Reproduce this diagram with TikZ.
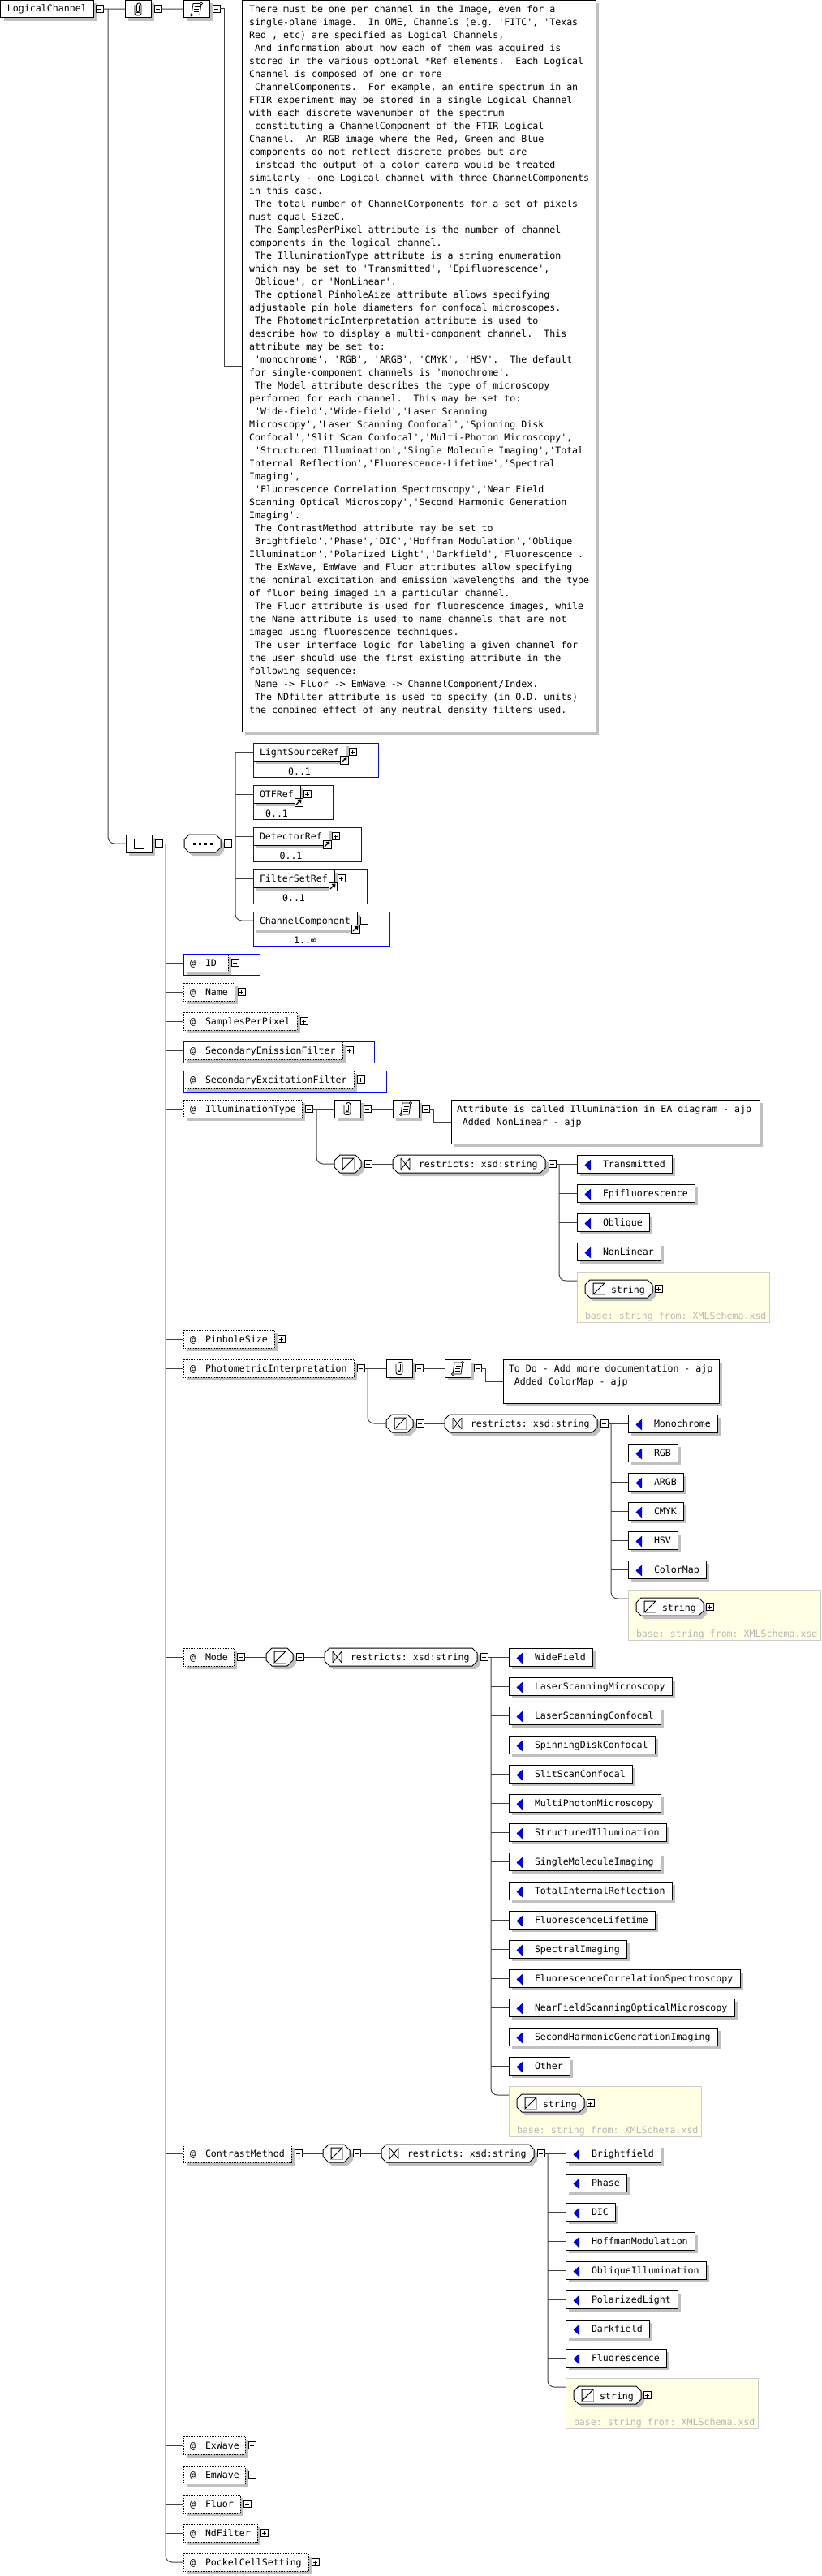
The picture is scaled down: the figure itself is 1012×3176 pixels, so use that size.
\documentclass[tikz,border=0pt]{standalone}
\usepackage{fontspec}
\setmonofont{DejaVu Sans Mono}
\usetikzlibrary{calc}
\definecolor{shadec}{RGB}{192,192,192}
\definecolor{connc}{RGB}{64,64,64}
\definecolor{yel}{RGB}{255,255,228}
\definecolor{yelb}{RGB}{205,205,205}
\definecolor{basec}{RGB}{185,185,185}
\definecolor{xblue}{RGB}{0,0,255}
\newcommand\mytf{\fontsize{11.6}{16}\selectfont\ttfamily\frenchspacing}
\tikzset{
  bxn/.style={draw=black,fill=white,line width=1pt,inner sep=0pt,outer sep=0pt},
  dotn/.style={bxn,densely dotted},
  conn/.style={draw=connc,line width=1pt},
  txt/.style={anchor=base west,inner sep=0pt,outer sep=0pt,font=\mytf},
  btnn/.style={draw=black,fill=white,line width=0.8pt,minimum size=9,inner sep=0pt,outer sep=0pt},
  bluef/.style={draw=xblue,line width=1pt},
}
% shadowed box: name x1 y1 x2 y2 style
\newcommand\mybox[6]{%
  \fill[shadec] ({#2+4},{#3+4}) rectangle ({#4+4},{#5+4});
  \node[#6,anchor=north west,minimum width={(#4)-(#2)},minimum height={(#5)-(#3)}] (#1) at ({#2},{#3}) {};
}
% button: name xleft ycenter plus?
\newcommand\mybtn[4]{%
  \node[btnn,anchor=west] (#1) at ({#2},{#3}) {};
  \draw[line width=0.8pt] ({#2+2},{#3}) -- ({#2+7},{#3});
  \ifnum#4=1\relax\draw[line width=0.8pt] ({#2+4.5},{#3-2.5}) -- ({#2+4.5},{#3+2.5});\fi
}
% octagon: name x1 y1 x2 y2 chamfer
\newcommand\myoct[6]{%
  \fill[shadec] ({#2+#6+4},{#3+4}) -- ({#4-#6+4},{#3+4}) -- ({#4+4},{#3+#6+4}) -- ({#4+4},{#5-#6+4}) -- ({#4-#6+4},{#5+4}) -- ({#2+#6+4},{#5+4}) -- ({#2+4},{#5-#6+4}) -- ({#2+4},{#3+#6+4}) -- cycle;
  \draw[line width=1pt,fill=white] ({#2+#6},{#3}) -- ({#4-#6},{#3}) -- ({#4},{#3+#6}) -- ({#4},{#5-#6}) -- ({#4-#6},{#5}) -- ({#2+#6},{#5}) -- ({#2},{#5-#6}) -- ({#2},{#3+#6}) -- cycle;
  \node[inner sep=0pt,outer sep=0pt,anchor=north west,minimum width={(#4)-(#2)},minimum height={(#5)-(#3)}] (#1) at ({#2},{#3}) {};
}
\newcommand\stico[2]{%
  \draw[draw=gray!70,line width=1pt] ({#1+14},{#2+1}) -- ({#1+14},{#2+14}) -- ({#1+1},{#2+14});
  \draw[line width=1pt,line join=miter] ({#1},{#2+14}) -- ({#1},{#2}) -- ({#1+14},{#2}) -- cycle;
}
\newcommand\rsico[2]{%
  \draw[line width=0.8pt] ({#1},{#2}) -- ({#1},{#2+14}) ({#1+11},{#2}) -- ({#1+11},{#2+14}) ({#1},{#2}) -- ({#1+11},{#2+14}) ({#1},{#2+14}) -- ({#1+11},{#2});
}
\newcommand\clipico[2]{%
  \draw[line width=0.9pt,rounded corners=2.5] ({#1+1.5},{#2+6}) -- ({#1+1.5},{#2+15}) -- ({#1-1.5},{#2+15}) -- ({#1-1.5},{#2+3.5}) -- ({#1+4},{#2+3.5}) -- ({#1+4},{#2+18.5}) -- ({#1-4},{#2+18.5}) -- ({#1-4},{#2+6});
}
\newcommand\scrollico[2]{%
  \draw[line width=0.8pt,fill=white] ({#1+4},{#2+3}) -- ({#1+14},{#2+3}) -- ({#1+12},{#2+17}) -- ({#1+2},{#2+17}) -- cycle;
  \draw[line width=0.8pt,fill=white] ({#1+14},{#2+3}) circle (1.6pt);
  \draw[line width=0.8pt,fill=white] ({#1+2},{#2+17}) circle (1.6pt);
  \draw[line width=0.7pt] ({#1+5.5},{#2+7}) -- ({#1+11.5},{#2+7}) ({#1+5},{#2+10}) -- ({#1+11},{#2+10}) ({#1+4.5},{#2+13}) -- ({#1+10.5},{#2+13});
}
% enumeration: name x top nchars text
\newcommand\myenum[5]{%
  \fill[shadec] ({#2+4},{#3+4}) rectangle ({#2+44+7*#4},{#3+26});
  \node[bxn,anchor=north west,minimum width={40+7*#4},minimum height=22] (#1) at ({#2},{#3}) {};
  \fill[xblue] ({#2+10},{#3+12.5}) -- ({#2+17},{#3+6}) -- ({#2+17},{#3+19}) -- cycle;
  \draw[line width=0.6pt,draw=xblue!40!black] ({#2+17},{#3+6}) -- ({#2+10},{#3+12.5}) -- ({#2+17},{#3+19});
  \node[txt] (#1-t) at ({#2+32},{#3+15}) {#5};
}
% element: name x top innerright text occurrence
\newcommand\myelem[6]{%
  \mybox{#1}{#2}{#3}{#4}{#3+22}{bxn}
  \node[txt] (#1-t) at ({#2+8},{#3+15}) {#5};
  \mybtn{#1-p}{#4+4}{#3+11}{1}
  \draw[line width=0.8pt,fill=white] ({#4-7},{#3+16}) rectangle ({#4+3},{#3+26});
  \draw[line width=1.2pt] ({#4-5},{#3+24}) -- ({#4-0.5},{#3+19.5});
  \fill ({#4+1.5},{#3+17.5}) -- ({#4-3.5},{#3+18}) -- ({#4+1},{#3+22.5}) -- cycle;
  \node[inner sep=0pt,font=\mytf,anchor=base] (#1-o) at ({(#2+#4)/2},{#3+39}) {#6};
  \draw[bluef] ({#2},{#3}) rectangle ({#4+40},{#3+42});
}
% attribute: name top right text
\newcommand\myattr[4]{%
  \mybox{#1}{226}{#2}{#3}{#2+22}{dotn}
  \node[txt] (#1-a) at (234,{#2+15}) {@};
  \node[txt] (#1-t) at (253,{#2+15}) {#4};
}
\newcommand\mystype[3]{%
  \myoct{#1}{#2}{#3}{#2+33}{#3+22}{7}
  \stico{#2+10}{#3+4}
}
\newcommand\myrestr[3]{%
  \myoct{#1}{#2}{#3}{#2+188}{#3+22}{6}
  \rsico{#2+10}{#3+4}
  \node[txt] (#1-t) at ({#2+32},{#3+15}) {restricts: xsd:string};
}
\newcommand\myyel[3]{%
  \node[draw=yelb,fill=yel,line width=1pt,inner sep=0pt,outer sep=0pt,anchor=north west,minimum width=237,minimum height=62] (#1) at ({#2},{#3}) {};
  \myoct{#1-s}{#2+10}{#3+10}{#2+93}{#3+32}{6}
  \stico{#2+20}{#3+14}
  \node[txt] (#1-t) at ({#2+42},{#3+26}) {string};
  \mybtn{#1-p}{#2+96}{#3+21}{1}
  \node[txt,text=basec] (#1-b) at ({#2+10},{#3+58}) {base: string from: XMLSchema.xsd};
}
\begin{document}
\begin{tikzpicture}[x=1pt,y=-1pt]
\fill[white] (0,0) rectangle (1012,3176);
\useasboundingbox (0,0) rectangle (1012,3176);

% ---------------- root element
\mybox{lc}{0.5}{0.5}{115}{22}{bxn}
\node[txt] (lc-t) at (9,15) {LogicalChannel};
\mybtn{lcb}{118}{11}{0}
\coordinate (lcv) at (133,11);

% ---------------- annotation
\mybox{pc0}{154}{0.5}{186}{22}{bxn}
\clipico{170}{0.5}
\mybtn{pc0b}{190}{11}{0}
\mybox{sc0}{226}{0.5}{258}{22}{bxn}
\scrollico{234}{1.5}
\mybtn{sc0b}{262}{11}{0}
\coordinate (dv) at (276,11);
\mybox{d0}{298}{0.5}{734}{902}{bxn}
\node[font=\mytf,align=left,anchor=north west,inner sep=0pt] (d0-t) at (307,3) {\rule{0pt}{12pt}There must be one per channel in the Image, even for a\\
single-plane image.~~In OME, Channels (e.g. 'FITC', 'Texas\\
Red', etc) are specified as Logical Channels,\\
~And information about how each of them was acquired is\\
stored in the various optional *Ref elements.~~Each Logical\\
Channel is composed of one or more\\
~ChannelComponents.~~For example, an entire spectrum in an\\
FTIR experiment may be stored in a single Logical Channel\\
with each discrete wavenumber of the spectrum\\
~constituting a ChannelComponent of the FTIR Logical\\
Channel.~~An RGB image where the Red, Green and Blue\\
components do not reflect discrete probes but are\\
~instead the output of a color camera would be treated\\
similarly - one Logical channel with three ChannelComponents\\
in this case.\\
~The total number of ChannelComponents for a set of pixels\\
must equal SizeC.\\
~The SamplesPerPixel attribute is the number of channel\\
components in the logical channel.\\
~The IlluminationType attribute is a string enumeration\\
which may be set to 'Transmitted', 'Epifluorescence',\\
'Oblique', or 'NonLinear'.\\
~The optional PinholeAize attribute allows specifying\\
adjustable pin hole diameters for confocal microscopes.\\
~The PhotometricInterpretation attribute is used to\\
describe how to display a multi-component channel.~~This\\
attribute may be set to:\\
~'monochrome', 'RGB', 'ARGB', 'CMYK', 'HSV'.~~The default\\
for single-component channels is 'monochrome'.\\
~The Model attribute describes the type of microscopy\\
performed for each channel.~~This may be set to:\\
~'Wide-field','Wide-field','Laser Scanning\\
Microscopy','Laser Scanning Confocal','Spinning Disk\\
Confocal','Slit Scan Confocal','Multi-Photon Microscopy',\\
~'Structured Illumination','Single Molecule Imaging','Total\\
Internal Reflection','Fluorescence-Lifetime','Spectral\\
Imaging',\\
~'Fluorescence Correlation Spectroscopy','Near Field\\
Scanning Optical Microscopy','Second Harmonic Generation\\
Imaging'.\\
~The ContrastMethod attribute may be set to\\
'Brightfield','Phase','DIC','Hoffman Modulation','Oblique\\
Illumination','Polarized Light','Darkfield','Fluorescence'.\\
~The ExWave, EmWave and Fluor attributes allow specifying\\
the nominal excitation and emission wavelengths and the type\\
of fluor being imaged in a particular channel.\\
~The Fluor attribute is used for fluorescence images, while\\
the Name attribute is used to name channels that are not\\
imaged using fluorescence techniques.\\
~The user interface logic for labeling a given channel for\\
the user should use the first existing attribute in the\\
following sequence:\\
~Name -> Fluor -> EmWave -> ChannelComponent/Index.\\
~The NDfilter attribute is used to specify (in O.D. units)\\
the combined effect of any neutral density filters used.};

% ---------------- complex type and sequence
\mybox{ct}{155}{1029}{187}{1051}{bxn}
\draw[line width=0.8pt] (165,1034) rectangle (177,1046);
\mybtn{ctb}{191}{1040}{0}
\coordinate (mv) at (204,1040);
\myoct{seq}{227}{1029}{272}{1051}{6}
\draw[line width=0.8pt] (234,1040) -- (265,1040);
\foreach \sx in {239,246,253,260}{\fill ({\sx-1.5},1038.5) rectangle ({\sx+1.5},1041.5);}
\mybtn{seqb}{276}{1040}{0}
\coordinate (sv) at (290,927);

\myelem{e1}{312}{916}{426}{LightSourceRef}{0..1}
\myelem{e2}{312}{968}{370}{OTFRef}{0..1}
\myelem{e3}{312}{1020}{405}{DetectorRef}{0..1}
\myelem{e4}{312}{1072}{412}{FilterSetRef}{0..1}
\myelem{e5}{312}{1124}{440}{ChannelComponent}{1..∞}

% ---------------- attributes
\myattr{aid}{1176}{281}{ID}
\mybtn{aidb}{285}{1187}{1}
\draw[bluef] (226,1176) rectangle (320,1202);
\myattr{aname}{1212}{289}{Name}
\mybtn{anameb}{293}{1223}{1}
\myattr{aspp}{1248}{366}{SamplesPerPixel}
\mybtn{asppb}{370}{1259}{1}
\myattr{asem}{1284}{422}{SecondaryEmissionFilter}
\mybtn{asemb}{426}{1295}{1}
\draw[bluef] (226,1284) rectangle (461,1310);
\myattr{asex}{1320}{436}{SecondaryExcitationFilter}
\mybtn{asexb}{440}{1331}{1}
\draw[bluef] (226,1320) rectangle (476,1346);
\myattr{aill}{1356}{372}{IlluminationType}
\mybtn{aillb}{376}{1367}{0}
\myattr{apin}{1640}{338}{PinholeSize}
\mybtn{apinb}{342}{1651}{1}
\myattr{api}{1676}{436}{PhotometricInterpretation}
\mybtn{apib}{440}{1687}{0}
\myattr{amode}{2032}{288}{Mode}
\mybtn{amodeb}{292}{2043}{0}
\myattr{acm}{2644}{359}{ContrastMethod}
\mybtn{acmb}{363}{2655}{0}
\myattr{aexw}{3004}{302}{ExWave}
\mybtn{aexwb}{306}{3015}{1}
\myattr{aemw}{3040}{302}{EmWave}
\mybtn{aemwb}{306}{3051}{1}
\myattr{afl}{3076}{296}{Fluor}
\mybtn{aflb}{300}{3087}{1}
\myattr{andf}{3112}{317}{NdFilter}
\mybtn{andfb}{321}{3123}{1}
\myattr{apcs}{3148}{380}{PockelCellSetting}
\mybtn{apcsb}{384}{3159}{1}

% ---------------- IlluminationType
\coordinate (ilv) at (390,1367);
\mybox{pc1}{412}{1356}{444}{1378}{bxn}
\clipico{428}{1356}
\mybtn{pc1b}{448}{1367}{0}
\mybox{sc1}{484}{1356}{516}{1378}{bxn}
\scrollico{492}{1357}
\mybtn{sc1b}{520}{1367}{0}
\coordinate (d1e) at (534,1367);
\mybox{d1}{556}{1356}{936}{1410}{bxn}
\node[txt] (d1-a) at (563,1371) {Attribute is called Illumination in EA diagram - ajp};
\node[txt] (d1-b) at (563,1387) {~Added NonLinear - ajp};
\mystype{st1}{412}{1424}
\mybtn{st1b}{449}{1435}{0}
\myrestr{r1}{484}{1424}
\mybtn{r1b}{676}{1435}{0}
\coordinate (r1v) at (689,1435);
\foreach \mytext/\mylen [count=\myk from 0] in {Transmitted/11,Epifluorescence/15,Oblique/7,NonLinear/9}{
  \myenum{ia\myk}{711}{1424+36*\myk}{\mylen}{\mytext}
}
\myyel{y1}{711}{1568}

% ---------------- PhotometricInterpretation
\coordinate (piv) at (453,1687);
\mybox{pc2}{476}{1676}{508}{1698}{bxn}
\clipico{492}{1676}
\mybtn{pc2b}{512}{1687}{0}
\mybox{sc2}{548}{1676}{580}{1698}{bxn}
\scrollico{556}{1677}
\mybtn{sc2b}{584}{1687}{0}
\coordinate (d2e) at (598,1687);
\mybox{d2}{620}{1676}{886}{1730}{bxn}
\node[txt] (d2-a) at (627,1691) {To Do - Add more documentation - ajp};
\node[txt] (d2-b) at (627,1707) {~Added ColorMap - ajp};
\mystype{st2}{476}{1744}
\mybtn{st2b}{513}{1755}{0}
\myrestr{r2}{548}{1744}
\mybtn{r2b}{740}{1755}{0}
\coordinate (r2v) at (753,1755);
\foreach \mytext/\mylen [count=\myk from 0] in {Monochrome/10,RGB/3,ARGB/4,CMYK/4,HSV/3,ColorMap/8}{
  \myenum{pa\myk}{774}{1744+36*\myk}{\mylen}{\mytext}
}
\myyel{y2}{774}{1960}

% ---------------- Mode
\mystype{st3}{328}{2032}
\mybtn{st3b}{365}{2043}{0}
\myrestr{r3}{400}{2032}
\mybtn{r3b}{592}{2043}{0}
\coordinate (r3v) at (605,2043);
\foreach \mytext/\mylen [count=\myk from 0] in {WideField/9,LaserScanningMicroscopy/23,LaserScanningConfocal/21,SpinningDiskConfocal/20,SlitScanConfocal/16,MultiPhotonMicroscopy/21,StructuredIllumination/22,SingleMoleculeImaging/21,TotalInternalReflection/23,FluorescenceLifetime/20,SpectralImaging/15,FluorescenceCorrelationSpectroscopy/35,NearFieldScanningOpticalMicroscopy/34,SecondHarmonicGenerationImaging/31,Other/5}{
  \myenum{ma\myk}{627}{2032+36*\myk}{\mylen}{\mytext}
}
\myyel{y3}{627}{2572}

% ---------------- ContrastMethod
\mystype{st4}{398}{2644}
\mybtn{st4b}{435}{2655}{0}
\myrestr{r4}{470}{2644}
\mybtn{r4b}{662}{2655}{0}
\coordinate (r4v) at (675,2655);
\foreach \mytext/\mylen [count=\myk from 0] in {Brightfield/11,Phase/5,DIC/3,HoffmanModulation/17,ObliqueIllumination/19,PolarizedLight/14,Darkfield/9,Fluorescence/12}{
  \myenum{ca\myk}{697}{2644+36*\myk}{\mylen}{\mytext}
}
\myyel{y4}{697}{2932}

% ================= connectors
\draw[conn] (lcb.east) -- (pc0.west);
\draw[conn] (pc0b.east) -- (sc0.west);
\draw[conn] (sc0b.east) -- (dv) |- (d0.west);
\draw[conn,rounded corners=8] (lcv) |- (ct.west);
\draw[conn] (ctb.east) -- (seq.west);
\draw[conn] (seqb.east) -- (seqb.east -| sv);
\draw[conn] (sv) -- (e1.west);
\foreach \el in {e2,e3,e4}{\draw[conn] (\el.west -| sv) -- (\el.west);}
\draw[conn,rounded corners=8] (sv) |- (e5.west);
\foreach \el in {aid,aname,aspp,asem,asex,aill,apin,api,amode,acm,aexw,aemw,afl,andf}{\draw[conn] (\el.west -| mv) -- (\el.west);}
\draw[conn,rounded corners=8] (mv) |- (apcs.west);
% illumination
\draw[conn] (aillb.east) -- (pc1.west);
\draw[conn,rounded corners=8] (ilv) |- (st1.west);
\draw[conn] (pc1b.east) -- (sc1.west);
\draw[conn] (sc1b.east) -- (d1e) |- (d1.west);
\draw[conn] (st1b.east) -- (r1.west);
\draw[conn] (r1b.east) -- (r1v);
\foreach \myk in {0,...,3}{\draw[conn] (ia\myk.west -| r1v) -- (ia\myk.west);}
\draw[conn,rounded corners=8] (r1v) |- ($(y1.north west)+(0,11)$);
% photometric
\draw[conn] (apib.east) -- (pc2.west);
\draw[conn,rounded corners=8] (piv) |- (st2.west);
\draw[conn] (pc2b.east) -- (sc2.west);
\draw[conn] (sc2b.east) -- (d2e) |- (d2.west);
\draw[conn] (st2b.east) -- (r2.west);
\draw[conn] (r2b.east) -- (r2v);
\foreach \myk in {0,...,5}{\draw[conn] (pa\myk.west -| r2v) -- (pa\myk.west);}
\draw[conn,rounded corners=8] (r2v) |- ($(y2.north west)+(0,11)$);
% mode
\draw[conn] (amodeb.east) -- (st3.west);
\draw[conn] (st3b.east) -- (r3.west);
\draw[conn] (r3b.east) -- (r3v);
\foreach \myk in {0,...,14}{\draw[conn] (ma\myk.west -| r3v) -- (ma\myk.west);}
\draw[conn,rounded corners=8] (r3v) |- ($(y3.north west)+(0,11)$);
% contrast method
\draw[conn] (acmb.east) -- (st4.west);
\draw[conn] (st4b.east) -- (r4.west);
\draw[conn] (r4b.east) -- (r4v);
\foreach \myk in {0,...,7}{\draw[conn] (ca\myk.west -| r4v) -- (ca\myk.west);}
\draw[conn,rounded corners=8] (r4v) |- ($(y4.north west)+(0,11)$);
\end{tikzpicture}
\end{document}
